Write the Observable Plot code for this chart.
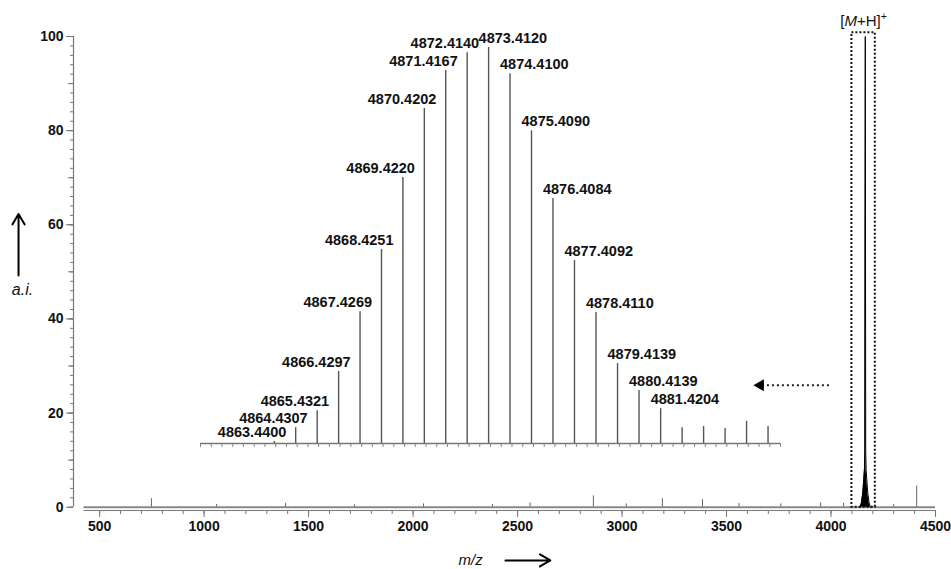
<!DOCTYPE html>
<html>
<head>
<meta charset="utf-8">
<script src="https://cdn.jsdelivr.net/npm/d3@7"></script>
<script src="https://cdn.jsdelivr.net/npm/@observablehq/plot@0.6"></script>
<style>
  body { margin: 0; background: #fff; }
  #chart { position: relative; width: 951px; height: 569px; }
  #chart svg { display: block; }
  #chart g[aria-label$="tick label"] { font-weight: bold; }
</style>
</head>
<body>
<div id="chart"></div>
<script>
// Full-range spectrum (m/z vs. relative intensity)
const xTicks = [500, 1000, 1500, 2000, 2500, 3000, 3500, 4000, 4500];
const yTicks = [0, 20, 40, 60, 80, 100];

// small noise spikes along the baseline
const spikeMz  = [748, 1060, 1390, 1720, 2050, 2380, 2560, 2863, 3020, 3193, 3385, 3560, 3760, 3950, 4060, 4300, 4410];
const spikeInt = [1.8, 0.6, 0.8, 0.5, 0.7, 0.6, 0.9, 2.4, 0.7, 1.8, 1.6, 0.8, 0.7, 0.9, 0.8, 0.6, 4.5];

// the [M+H]+ molecular ion peak
const peakMz  = [4140, 4146, 4152, 4157, 4160, 4162, 4164, 4166, 4168, 4171, 4176, 4182, 4188];
const peakInt = [0, 1, 3, 6, 8, 12, 100, 12, 8, 6, 3, 1, 0];
const boxMz = [4100, 4212];
const ionLabel = "[M+H]+";

// Isotope cluster shown expanded (relative intensity, %)
const isoMz = [4863.4400, 4864.4307, 4865.4321, 4866.4297, 4867.4269, 4868.4251, 4869.4220,
               4870.4202, 4871.4167, 4872.4140, 4873.4120, 4874.4100, 4875.4090, 4876.4084,
               4877.4092, 4878.4110, 4879.4139, 4880.4139, 4881.4204,
               4882.42, 4883.42, 4884.42, 4885.42, 4886.42];
const isoInt = [0.5, 4.0, 8.3, 18.2, 33.3, 49.0, 67.2, 84.6, 94.2, 98.7, 100, 93.4, 79.0, 61.9,
                46.2, 33.1, 20.2, 13.4, 8.8, 4.0, 4.3, 3.8, 5.6, 4.3];
const isoLabelled = 19; // first 19 peaks carry an m/z label

const font = "'Liberation Sans', Arial, Helvetica, sans-serif";
const axisGray = "#777";

const spikes = spikeMz.map((mz, i) => ({mz, v: spikeInt[i]}));
const peak = peakMz.map((mz, i) => ({mz, v: peakInt[i]}));
const iso = isoMz.map((mz, i) => ({mz, v: isoInt[i], label: i < isoLabelled ? d3.format(".4f")(mz) : null}));
const isoLeft = iso.filter(d => d.label && d.mz < 4873);
const isoRight = iso.filter(d => d.label && d.mz >= 4873);

const main = Plot.plot({
  width: 951,
  height: 569,
  marginLeft: 73,
  marginRight: 16,
  marginTop: 36,
  marginBottom: 59,
  x: {domain: [375, 4500]},
  y: {domain: [-0.7, 100]},
  style: {fontFamily: font, fontSize: "14px", color: "#111", background: "white", overflow: "visible"},
  marks: [
    // y axis: minor, mid and labelled ticks
    Plot.axisY(d3.range(0, 101, 2), {tickSize: 3, tickFormat: () => "", stroke: axisGray, label: null}),
    Plot.axisY(d3.range(0, 101, 10), {tickSize: 5, tickFormat: () => "", stroke: axisGray, label: null}),
    Plot.axisY(yTicks, {tickSize: 7, tickPadding: 3, tickFormat: d => String(d), stroke: axisGray, fill: "#111", fontSize: 14, fontWeight: "bold", label: null}),
    Plot.ruleX([375], {y1: 0, y2: 100, stroke: axisGray, strokeWidth: 1.2}),
    // x axis
    Plot.axisX(d3.range(500, 4501, 100), {tickSize: 4, tickFormat: () => "", stroke: axisGray, label: null}),
    Plot.axisX(xTicks, {tickSize: 7, tickPadding: 4, tickFormat: d => String(d), stroke: axisGray, fill: "#111", fontSize: 14, fontWeight: "bold", label: null}),
    Plot.ruleY([-0.7], {x1: 425, x2: 4500, stroke: axisGray, strokeWidth: 1.2}),
    // spectrum
    Plot.ruleY([0], {x1: 425, x2: 4500, stroke: "#888", strokeWidth: 2}),
    Plot.ruleX(spikes, {x: "mz", y1: 0, y2: "v", stroke: "#666", strokeWidth: 1}),
    Plot.areaY(peak, {x: "mz", y: "v", fill: "#000"}),
    Plot.lineY(peak, {x: "mz", y: "v", stroke: "#000", strokeWidth: 1}),
    Plot.rect([0], {x1: boxMz[0], x2: boxMz[1], y1: 0, y2: 100.8, fill: "none", stroke: "#111", strokeWidth: 2, strokeDasharray: "2,2"}),
    Plot.text([ionLabel], {x: (boxMz[0] + boxMz[1]) / 2, y: 100.8, dy: -12, text: d => d, fontSize: 15, fill: "#111"}),
    // axis captions with arrows
    Plot.arrow([0], {x1: 112, x2: 112, y1: 49.2, y2: 62.3, stroke: "#000", strokeWidth: 2, headLength: 9}),
    Plot.text(["a.i."], {x: 131, y: 46.2, text: d => d, fontSize: 16, fontStyle: "italic", fill: "#111"}),
    Plot.text(["m/z"], {x: 2275, y: -11.3, text: d => d, fontSize: 15, fontStyle: "italic", fill: "#111"}),
    Plot.arrow([0], {x1: 2442, x2: 2657, y1: -11.3, y2: -11.3, stroke: "#000", strokeWidth: 2, headLength: 9}),
    // dotted pointer from the molecular ion to the expanded cluster
    Plot.link([0], {x1: 3990, x2: 3672, y1: 25.9, y2: 25.9, stroke: "#222", strokeWidth: 2, strokeDasharray: "2,3"}),
    Plot.dot([0], {x: 3662, y: 25.9, symbol: "triangle", r: 4.5, fill: "#000", stroke: "none", rotate: -90})
  ]
});

// italic M and superscript + in the ion label
d3.select(main).selectAll("text").filter(function() { return this.textContent === ionLabel; }).each(function() {
  const t = d3.select(this);
  t.text("");
  t.append("tspan").text("[");
  t.append("tspan").attr("font-style", "italic").text("M");
  t.append("tspan").text("+H]");
  t.append("tspan").attr("dy", "-0.5em").attr("font-size", "0.7em").text("+");
});

const inset = Plot.plot({
  width: 600,
  height: 440,
  marginLeft: 10,
  marginRight: 10,
  marginTop: 27,
  marginBottom: 17,
  x: {domain: [4860, 4887]},
  y: {domain: [0, 100], axis: null},
  style: {fontFamily: font, fontSize: "14px", color: "#111", background: "transparent", overflow: "visible"},
  marks: [
    Plot.axisX(d3.range(4860, 4887.01, 0.5), {tickSize: 4, tickFormat: () => "", stroke: "#888", label: null}),
    Plot.ruleY([0], {stroke: "#777", strokeWidth: 1.5}),
    Plot.ruleX(iso, {x: "mz", y1: 0, y2: "v", stroke: "#555", strokeWidth: 1.4}),
    Plot.text(isoLeft, {x: "mz", y: "v", text: "label", textAnchor: "end", dx: 12, dy: -9, fontSize: 14.5, fontWeight: "bold", fill: "#111"}),
    Plot.text(isoRight, {x: "mz", y: "v", text: "label", textAnchor: "start", dx: -10, dy: -9, fontSize: 14.5, fontWeight: "bold", fill: "#111"})
  ]
});
inset.style.position = "absolute";
inset.style.left = "190px";
inset.style.top = "20px";

const chart = document.getElementById("chart");
chart.appendChild(main);
chart.appendChild(inset);
</script>
</body>
</html>
